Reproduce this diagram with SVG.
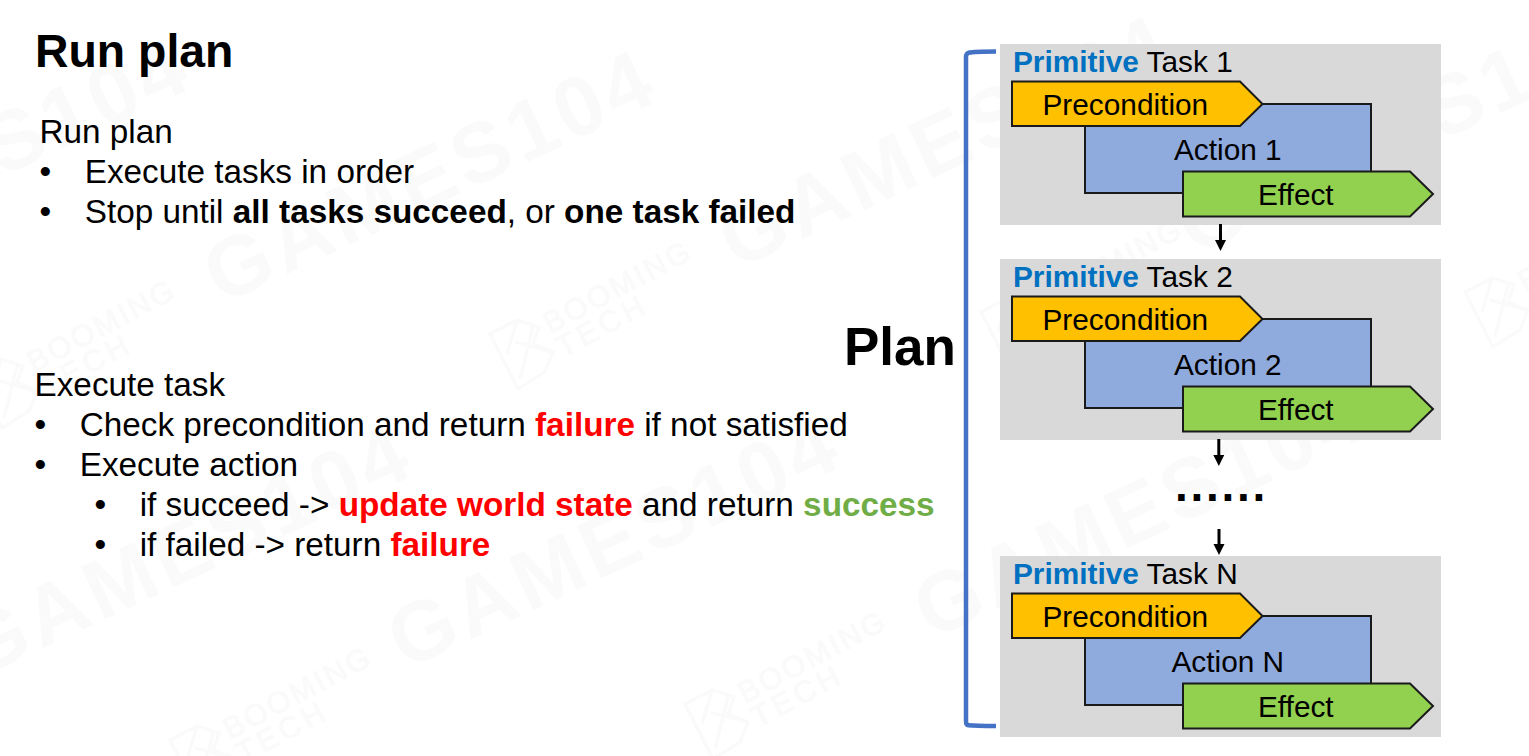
<svg xmlns="http://www.w3.org/2000/svg" width="1529" height="756" viewBox="0 0 1529 756">
<style>
text{font-family:"Liberation Sans",Arial,sans-serif;fill:#000}
.b{font-size:33.3px}
.n{font-size:29.8px}
.bd{font-weight:700}
.red{fill:#f00;font-weight:700}
.grn{fill:#70ad47;font-weight:700}
.blue{fill:#0070c0;font-weight:700}
.bg{fill:#d9d9d9}
.pre{fill:#ffc000;stroke:#1a1a1a;stroke-width:2}
.act{fill:#8faadc;stroke:#1a1a1a;stroke-width:2}
.eff{fill:#92d050;stroke:#1a1a1a;stroke-width:2}
.wm{fill:#fafafa;font-weight:700;font-size:84px;letter-spacing:5px}
.wb{fill:#fafafa;stroke:#fafafa;stroke-width:.6;font-size:30px;letter-spacing:2.700px}
.wt{letter-spacing:4.500px}
</style>
<defs>
<marker id="arr" markerWidth="12" markerHeight="12" refX="2" refY="5.500" orient="auto" markerUnits="userSpaceOnUse"><path d="M0 0L11 5.500L0 11z" fill="#000"/></marker>
<g id="task-shapes">
<rect class="bg" x="1000" y="0" width="441" height="181"/>
<path class="act" d="M1085 60H1371V149H1085z"/>
<path class="pre" d="M1012 37.500H1240L1262.500 60L1240 82H1012z"/>
<path class="eff" d="M1183 127.500H1410L1433 150L1410 172.500H1183z"/>
</g>
<g id="boom">
<path d="M-32-20L-5-34L17-27L11-10L31-2L23 18L-4 35zM-5-34L-15 0M-7-12L29-2M11-27L-2 25" fill="none" stroke="#fafafa" stroke-width="3.300"/>
<text class="wb" transform="translate(28 -20) rotate(-28)">BOOMING</text>
<text class="wb wt" transform="translate(41 4) rotate(-28)">TECH</text>
</g>
</defs>
<rect width="1529" height="756" fill="#fff"/>
<g id="watermark">
<text class="wm" transform="translate(-245 292) rotate(-25)">GAMES104</text>
<text class="wm" transform="translate(221 305) rotate(-25)">GAMES104</text>
<text class="wm" transform="translate(405 670) rotate(-25)">GAMES104</text>
<text class="wm" transform="translate(736 270) rotate(-25)">GAMES104</text>
<text class="wm" transform="translate(931 640) rotate(-25)">GAMES104</text>
<text class="wm" transform="translate(-23 679) rotate(-25)">GAMES104</text>
<text class="wm" transform="translate(1194 256) rotate(-25)">GAMES104</text>
<use href="#boom" x="6" y="393"/>
<use href="#boom" x="522" y="354"/>
<use href="#boom" x="202" y="760"/>
<use href="#boom" x="717" y="724"/>
<use href="#boom" x="1013" y="332"/>
<use href="#boom" x="1497" y="312"/>
</g>
<g id="title"><text x="35" y="67" font-size="46.400" class="bd">Run plan</text></g>
<g id="run-plan">
<text class="b" x="39.500" y="143">Run plan</text>
<text class="b" x="39.500" y="183">•</text><text class="b" x="84.700" y="183">Execute tasks in order</text>
<text class="b" x="39.500" y="223">•</text><text class="b" x="84.700" y="223">Stop until <tspan class="bd">all tasks succeed</tspan>, or <tspan class="bd">one task failed</tspan></text>
</g>
<g id="execute-task">
<text class="b" x="34.500" y="396">Execute task</text>
<text class="b" x="34.500" y="436">•</text><text class="b" x="79.700" y="436">Check precondition and return <tspan class="red">failure</tspan> if not satisfied</text>
<text class="b" x="34.500" y="476">•</text><text class="b" x="79.700" y="476">Execute action</text>
<text class="b" x="94.500" y="516">•</text><text class="b" x="139.700" y="516">if succeed -&gt; <tspan class="red">update world state</tspan> and return <tspan class="grn">success</tspan></text>
<text class="b" x="94.500" y="556">•</text><text class="b" x="139.700" y="556">if failed -&gt; return <tspan class="red">failure</tspan></text>
</g>
<g id="plan-label"><text x="844" y="365" font-size="53" class="bd">Plan</text></g>
<g id="plan-bracket"><path d="M996 51.500C985 51.500 972 52 968.500 52.800Q966 53.500 966 57V721Q966 725 968.500 725.300C975 726 985 726 996 726" fill="none" stroke="#4472c4" stroke-width="4.500"/></g>
<g id="task-1">
<use href="#task-shapes" y="44"/>
<text class="n" x="1013" y="72"><tspan class="blue">Primitive</tspan> Task 1</text>
<text class="n" x="1042.500" y="115">Precondition</text>
<text class="n" x="1174" y="160">Action 1</text>
<text class="n" x="1258" y="205">Effect</text>
</g>
<g id="task-2">
<use href="#task-shapes" y="259"/>
<text class="n" x="1013" y="287"><tspan class="blue">Primitive</tspan> Task 2</text>
<text class="n" x="1042.500" y="330">Precondition</text>
<text class="n" x="1174" y="375">Action 2</text>
<text class="n" x="1258" y="420">Effect</text>
</g>
<g id="task-n">
<use href="#task-shapes" y="556"/>
<text class="n" x="1013" y="584"><tspan class="blue">Primitive</tspan> Task N</text>
<text class="n" x="1042.500" y="627">Precondition</text>
<text class="n" x="1171.500" y="672">Action N</text>
<text class="n" x="1258" y="717">Effect</text>
</g>
<g id="ellipsis"><text x="1175" y="501" font-size="46" class="bd" letter-spacing="2.700">......</text></g>
<g id="connectors" fill="none" stroke="#000" stroke-width="3">
<path d="M1220.500 224V242" marker-end="url(#arr)"/>
<path d="M1218.800 439V457" marker-end="url(#arr)"/>
<path d="M1219 529V546" marker-end="url(#arr)"/>
</g>
</svg>
